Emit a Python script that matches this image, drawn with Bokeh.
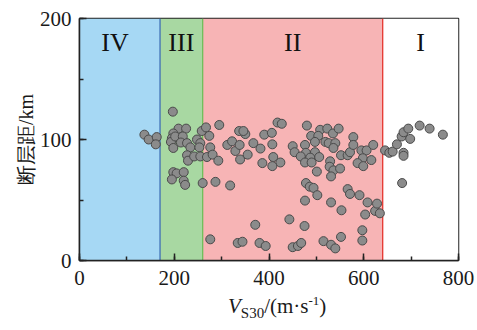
from bokeh.plotting import figure
from bokeh.models import SingleIntervalTicker, Range1d, Div
from bokeh.layouts import column
from bokeh.embed import file_html
from bokeh.resources import INLINE
from bokeh.core.properties import value

# --- data ---
vs30 = [137, 146, 163, 161,
        197, 209, 225, 198, 195, 193, 202, 218, 198, 214, 227, 234, 248, 255, 253, 258,
        227, 229, 242, 255, 198, 205, 220, 195, 220, 223,
        260, 267, 295, 274, 276, 269, 281, 293, 287, 318, 312, 322, 329, 337, 350, 338,
        339, 355, 367, 382, 346, 276, 334, 344, 371, 380, 393,
        418, 427, 390, 406, 407, 409, 386, 424, 407,
        480, 489, 508, 504, 523, 535, 547, 497, 519, 526, 540, 536, 450, 476, 454, 478,
        497, 467, 487, 506, 476, 490, 501, 529, 528, 536, 552, 550, 531, 566, 571, 578,
        578, 595, 606, 620, 598, 587, 599, 616, 478, 486, 494, 566, 571, 502, 476, 531,
        553, 591, 608, 603, 624, 628, 634, 443, 475, 597, 597, 552, 515, 531, 540, 450,
        461, 468,
        645, 654, 661, 670, 684, 684, 680, 684, 694, 698, 718, 739, 767, 681]
dist = [104, 100, 102, 96,
        123, 109, 109, 105, 101, 98, 102.5, 102.5, 93, 97.5, 97, 93.5, 100, 97, 93.5, 107,
        87, 82.5, 86, 86, 73, 72, 73, 67, 66, 62.5,
        64, 110, 112, 103, 93.5, 85.5, 87.5, 82.5, 65, 62, 95.5, 98.5, 90.5, 107, 104.5, 95.5,
        83.5, 87.5, 97, 92.5, 107, 17.5, 14.5, 15.5, 29.5, 14.5, 12,
        114, 113, 104, 105.5, 96, 85.5, 80.5, 81, 78,
        111.5, 103, 108, 103, 109, 105, 109, 98, 98, 97, 97, 93, 94.5, 95.5, 89.5, 89,
        89.5, 86, 85, 85.5, 81, 81, 73.5, 82, 77.5, 74.5, 87, 76, 69.5, 87, 89.5, 102,
        95.5, 91, 91, 95.5, 84.5, 80.5, 78, 83, 64, 61, 60, 59, 55, 54, 49.5, 48,
        41.5, 54, 48, 38, 41, 47, 39, 34, 28.5, 25, 16.5, 19.5, 16, 13, 10, 11,
        12, 14.5,
        91, 89, 90, 96, 89, 86.5, 102.5, 106, 109, 100.5, 111.5, 109, 104, 64]

zone_left = [0, 170, 260, 640]
zone_right = [170, 260, 640, 800]
zone_names = ["IV", "III", "II", "I"]
zone_label_x = [75, 215, 450, 720]
zone_fill = ["#a6d8f4", "#a8d8a2", "#f7b4b5", "#ffffff"]
edge_x = [170, 260, 640]
edge_color = ["#3f6fb4", "#6fbf5a", "#e5352e"]

x_ticks_interval = 200
y_ticks_interval = 100

SERIF = "Liberation Serif"

p = figure(width=477, height=296, output_backend="svg", toolbar_location=None,
           x_range=Range1d(0, 800), y_range=Range1d(0, 200),
           min_border_left=79, min_border_right=19, min_border_top=18, min_border_bottom=36)
p.grid.visible = False
p.background_fill_color = "white"
p.border_fill_color = "white"
p.outline_line_color = "#222222"
p.outline_line_width = 1.5

p.quad(left=zone_left, right=zone_right, bottom=0, top=200, fill_color=zone_fill, line_color=None)
p.segment(x0=edge_x, y0=0, x1=edge_x, y1=200, line_color=edge_color, line_width=1.3)
p.text(x=zone_label_x, y=[180] * 4, text=zone_names, text_font=value(SERIF),
       text_font_size="26px", text_align="center", text_baseline="alphabetic", text_color="#111111")

p.scatter(vs30, dist, size=9, fill_color="#8b8b8b", line_color="#4a4a4a", line_width=1)

for ax, iv in ((p.xaxis[0], x_ticks_interval), (p.yaxis[0], y_ticks_interval)):
    ax.ticker = SingleIntervalTicker(interval=iv, num_minor_ticks=2)
    ax.major_tick_in = 7
    ax.major_tick_out = 0
    ax.minor_tick_in = 4
    ax.minor_tick_out = 0
    ax.axis_line_width = 1.5
    ax.axis_line_color = "#222222"
    ax.major_tick_line_width = 1.5
    ax.minor_tick_line_width = 1.5
    ax.major_tick_line_color = "#222222"
    ax.minor_tick_line_color = "#222222"
    ax.major_label_text_font = SERIF
    ax.major_label_text_font_size = "21px"
    ax.major_label_text_color = "#1a1a1a"

p.xaxis[0].major_label_standoff = 10
p.yaxis[0].major_label_standoff = 8
p.yaxis[0].axis_label = "断层距/km"
p.yaxis[0].axis_label_text_font = SERIF
p.yaxis[0].axis_label_text_font_size = "20px"
p.yaxis[0].axis_label_text_font_style = "normal"
p.yaxis[0].axis_label_text_color = "#1a1a1a"
p.yaxis[0].axis_label_standoff = 0

xlabel_html = (
    '<div style="padding-left:228px; font-family:\'Liberation Serif\',\'Times New Roman\',serif; '
    'font-size:21px; line-height:21px; color:#1a1a1a; white-space:nowrap;">'
    '<span style="font-style:italic">V</span>'
    '<span style="font-size:15px; vertical-align:-5px; line-height:0">S30</span>'
    '/(m·s<span style="font-size:13px; vertical-align:8px; line-height:0">-1</span>)'
    '</div>'
)
xlabel = Div(text=xlabel_html, width=477, height=34, margin=0)

layout = column(p, xlabel, spacing=0)
open("out.html", "w").write(file_html(layout, INLINE))
